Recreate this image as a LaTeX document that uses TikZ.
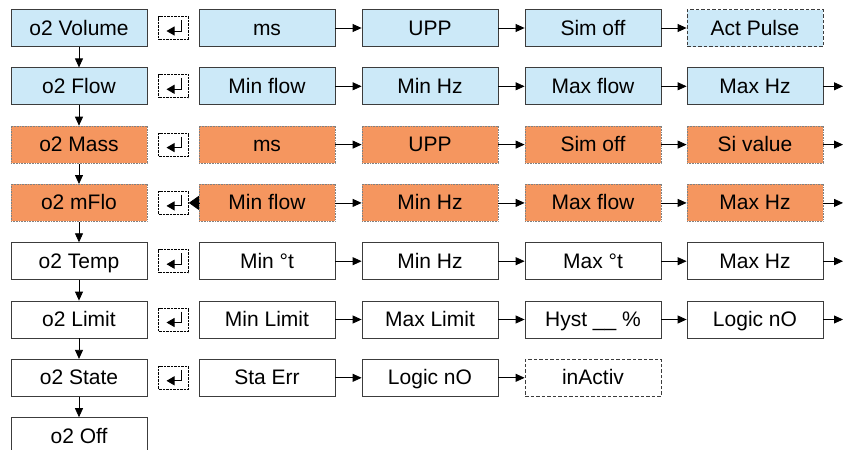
\documentclass[tikz,border=0pt]{standalone}
\usepackage{fontspec}
\setmainfont{Liberation Sans}
\usetikzlibrary{arrows.meta}
\definecolor{bluef}{RGB}{204,233,248}
\definecolor{orangef}{RGB}{245,150,95}
\definecolor{edgec}{RGB}{60,60,60}
\begin{document}
\begin{tikzpicture}[x=1pt,y=-1pt,
 box/.style={draw=edgec, line width=0.8pt, minimum width=136pt, minimum height=37pt, inner sep=0pt, text height=15pt, text depth=1pt, font=\fontsize{21}{24}\selectfont},
 bl/.style={box, fill=bluef},
 og/.style={box, fill=orangef, draw=gray, dash pattern=on 0.8pt off 0.8pt},
 wh/.style={box, fill=white},
 dsh/.style={dash pattern=on 3.5pt off 2pt, draw=edgec},
 ent/.style={draw=black, line width=0.7pt, dash pattern=on 0.7pt off 0.7pt, minimum width=30pt, minimum height=23pt, inner sep=0pt},
 arr/.style={-{Triangle[length=9pt,width=8pt]}, line width=0.8pt, draw=black},
 entsym/.style={-{Triangle[length=8pt,width=9pt]}, line width=0.9pt},
]
\useasboundingbox (0,0) rectangle (852,450);

% left column
\node[bl] (L0) at (79,28) {o2 Volume};
\node[bl] (L1) at (79,86.3) {o2 Flow};
\node[og] (L2) at (79,144.6) {o2 Mass};
\node[og] (L3) at (79,202.9) {o2 mFlo};
\node[wh] (L4) at (79,261.2) {o2 Temp};
\node[wh] (L5) at (79,319.5) {o2 Limit};
\node[wh] (L6) at (79,377.8) {o2 State};
\node[wh] (L7) at (79,436.1) {o2 Off};

\foreach \a/\b in {L0/L1,L1/L2,L2/L3,L3/L4,L4/L5,L5/L6,L6/L7}
  \draw[arr] (\a.south) -- (\b.north);

% enter icons
\foreach \i/\y in {0/28,1/86.3,2/144.6,3/202.9,4/261.2,5/319.5,6/377.8}{
  \node[ent] (E\i) at (173.5,\y) {};
  \draw[entsym] (E\i.center) ++(7.5,-8) -- ++(0,11) -- ++(-14.5,0);
}

% row 0
\node[bl] (A1) at (267,28) {ms};
\node[bl] (A2) at (430,28) {UPP};
\node[bl] (A3) at (593,28) {Sim off};
\node[bl,dsh] (A4) at (755,28) {Act Pulse};
% row 1
\node[bl] (B1) at (267,86.3) {Min flow};
\node[bl] (B2) at (430,86.3) {Min Hz};
\node[bl] (B3) at (593,86.3) {Max flow};
\node[bl] (B4) at (755,86.3) {Max Hz};
% row 2
\node[og] (C1) at (267,144.6) {ms};
\node[og] (C2) at (430,144.6) {UPP};
\node[og] (C3) at (593,144.6) {Sim off};
\node[og] (C4) at (755,144.6) {Si value};
% row 3
\node[og] (D1) at (267,202.9) {Min flow};
\node[og] (D2) at (430,202.9) {Min Hz};
\node[og] (D3) at (593,202.9) {Max flow};
\node[og] (D4) at (755,202.9) {Max Hz};
% row 4
\node[wh] (F1) at (267,261.2) {Min °t};
\node[wh] (F2) at (430,261.2) {Min Hz};
\node[wh] (F3) at (593,261.2) {Max °t};
\node[wh] (F4) at (755,261.2) {Max Hz};
% row 5
\node[wh] (G1) at (267,319.5) {Min Limit};
\node[wh] (G2) at (430,319.5) {Max Limit};
\node[wh] (G3) at (593,319.5) {Hyst \_\_ \%};
\node[wh] (G4) at (755,319.5) {Logic nO};
% row 6
\node[wh] (H1) at (267,377.8) {Sta Err};
\node[wh] (H2) at (430,377.8) {Logic nO};
\node[wh,dsh] (H3) at (593,377.8) {inActiv};

\foreach \r in {A,B,C,D,F,G}{
  \draw[arr] (\r1.east) -- (\r2.west);
  \draw[arr] (\r2.east) -- (\r3.west);
  \draw[arr] (\r3.east) -- (\r4.west);
}
\draw[arr] (H1.east) -- (H2.west);
\draw[arr] (H2.east) -- (H3.west);

% trailing arrows
\foreach \r/\y in {B/86.3,C/144.6,D/202.9,F/261.2,G/319.5}{
  \coordinate (T\r) at (843,\y);
  \draw[arr] (\r4.east) -- (T\r);
}

% return arrow in row 3
\draw[-{Triangle[length=10pt,width=14pt]}, line width=0.8pt] (D1.west) -- (E3.east);
\end{tikzpicture}
\end{document}
